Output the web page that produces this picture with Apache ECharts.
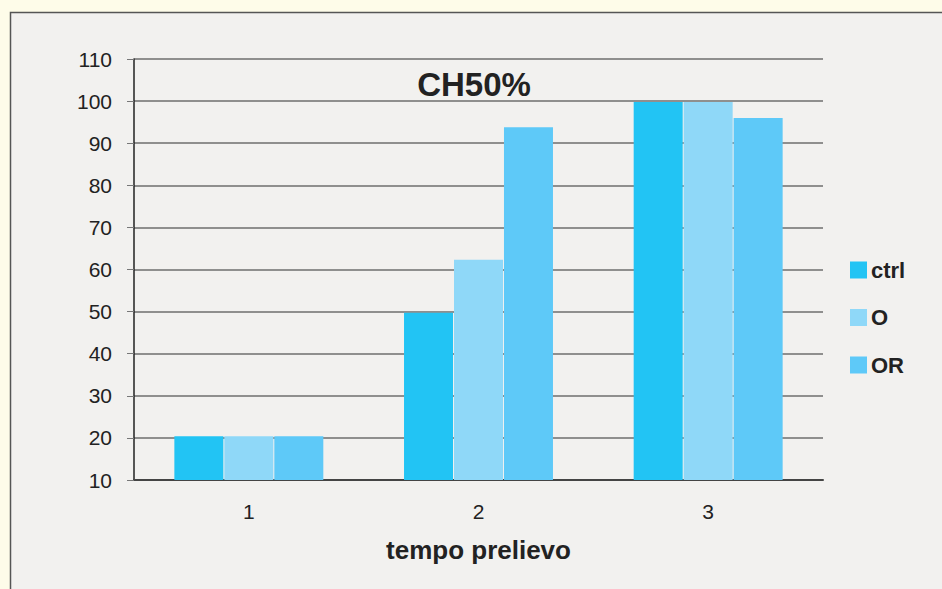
<!DOCTYPE html>
<html>
<head>
<meta charset="utf-8">
<script src="https://cdn.jsdelivr.net/npm/echarts@6/dist/echarts.min.js"></script>
<style>
  html, body { margin: 0; padding: 0; background: #fefce9; }
  #chart { width: 942px; height: 589px; }
</style>
</head>
<body>
<div id="chart"></div>
<script>
var categories = ['1', '2', '3'];
var seriesNames = ['ctrl', 'O', 'OR'];
var ctrlValues = [20.4, 49.7, 99.8];
var oValues = [20.4, 62.3, 99.8];
var orValues = [20.4, 93.8, 96];
var colors = ['#22c4f4', '#8fd8f8', '#5ec9f8'];

var font = '"Liberation Sans", Arial, Helvetica, sans-serif';
var chart = echarts.init(document.getElementById('chart'), null, { renderer: 'svg' });

function barSeries(name, data, color) {
  return {
    name: name,
    type: 'bar',
    data: data,
    barWidth: 49,
    barGap: '2%',
    itemStyle: { color: color },
    z: 3
  };
}

chart.setOption({
  animation: false,
  backgroundColor: '#fefce9',
  graphic: [{
    type: 'rect',
    z: -10,
    shape: { x: 10.5, y: 12.5, width: 940, height: 600 },
    style: { fill: '#f2f1ef', stroke: '#555', lineWidth: 1.5 }
  }],
  title: {
    text: 'CH50%',
    left: 469,
    textAlign: 'center',
    top: 63,
    textStyle: { fontFamily: font, fontSize: 33, fontWeight: 'bold', color: '#222' }
  },
  legend: {
    orient: 'vertical',
    left: 850,
    top: 259,
    padding: 0,
    itemWidth: 17,
    itemHeight: 17,
    itemGap: 25.5,
    icon: 'rect',
    data: seriesNames,
    textStyle: { fontFamily: font, fontSize: 22, fontWeight: 'bold', color: '#222', padding: [0, 0, 0, -1], lineHeight: 17 }
  },
  grid: { left: 134, right: 119, top: 59, bottom: 109 },
  xAxis: {
    type: 'category',
    data: categories,
    name: 'tempo prelievo',
    nameLocation: 'middle',
    nameGap: 57,
    nameTextStyle: { fontFamily: font, fontSize: 26, fontWeight: 'bold', color: '#222' },
    axisLine: { lineStyle: { color: '#444', width: 2 } },
    axisTick: { show: false },
    axisLabel: { fontFamily: font, fontSize: 21, color: '#222', margin: 21 }
  },
  yAxis: {
    type: 'value',
    min: 10,
    max: 110,
    interval: 10,
    axisLine: { show: true, lineStyle: { color: '#222', width: 1.5 } },
    axisTick: { show: true, length: 7, lineStyle: { color: '#777' } },
    axisLabel: { fontFamily: font, fontSize: 21, color: '#222', margin: 22 },
    splitLine: { lineStyle: { color: '#6e6e6e', width: 1.5 } }
  },
  series: [
    barSeries(seriesNames[0], ctrlValues, colors[0]),
    barSeries(seriesNames[1], oValues, colors[1]),
    barSeries(seriesNames[2], orValues, colors[2])
  ]
});
</script>
</body>
</html>
